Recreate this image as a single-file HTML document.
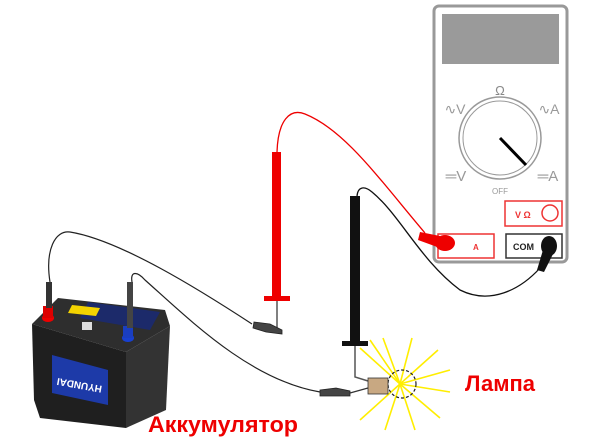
<!DOCTYPE html>
<html><head><meta charset="utf-8"><style>
html,body{margin:0;padding:0;background:#fff;width:600px;height:443px;overflow:hidden}
svg{display:block}
text{font-family:"Liberation Sans",sans-serif}
</style></head><body>
<svg width="600" height="443" viewBox="0 0 600 443" xmlns="http://www.w3.org/2000/svg">
<!-- Multimeter -->
<rect x="434" y="6" width="133" height="256" rx="5" fill="#fff" stroke="#999" stroke-width="3"/>
<rect x="442" y="14" width="117" height="50" fill="#9a9a9a"/>
<circle cx="500" cy="138" r="41" fill="#fff" stroke="#999" stroke-width="1.5"/>
<circle cx="500" cy="138" r="37" fill="#fff" stroke="#999" stroke-width="1"/>
<line x1="500" y1="138" x2="526" y2="165" stroke="#000" stroke-width="3"/>
<text x="500" y="95" font-size="13" fill="#888" text-anchor="middle">Ω</text>
<text x="455" y="114" font-size="14" fill="#999" text-anchor="middle">∿V</text>
<text x="549" y="114" font-size="14" fill="#999" text-anchor="middle">∿A</text>
<text x="456" y="181" font-size="15" fill="#999" text-anchor="middle">═V</text>
<text x="548" y="181" font-size="15" fill="#999" text-anchor="middle">═A</text>
<text x="500" y="194" font-size="8" fill="#999" text-anchor="middle">OFF</text>
<rect x="505" y="201" width="57" height="25" fill="#fff" stroke="#e33" stroke-width="1.5"/>
<text x="515" y="218" font-size="9" font-weight="bold" fill="#e33">V Ω</text>
<circle cx="550" cy="213" r="8" fill="none" stroke="#e33" stroke-width="1.5"/>
<rect x="438" y="234" width="56" height="24" fill="#fff" stroke="#e33" stroke-width="1.5"/>
<text x="473" y="250" font-size="8" font-weight="bold" fill="#e33">A</text>
<rect x="506" y="234" width="56" height="24" fill="#fff" stroke="#333" stroke-width="1.5"/>
<text x="513" y="250" font-size="9" font-weight="bold" fill="#222">COM</text>
<!-- red lead -->
<path d="M277,152 C278,120 290,108 305,114 C345,130 380,180 425,233" fill="none" stroke="#e00" stroke-width="1.3"/>
<ellipse cx="445" cy="243" rx="10" ry="8" fill="#e00"/>
<path d="M420,232 L440,236 L440,248 L418,240 Z" fill="#e00"/>
<!-- black lead -->
<path d="M357,196 C358,186 365,186 372,192 C400,215 420,260 460,290 C490,305 520,290 540,268" fill="none" stroke="#111" stroke-width="1.3"/>
<ellipse cx="549" cy="246" rx="8" ry="10" fill="#111"/>
<path d="M543,250 L554,252 L544,272 L537,270 Z" fill="#111"/>
<!-- red probe -->
<rect x="272" y="152" width="9" height="145" fill="#e00"/>
<path d="M272,290 L272,296 L264,296 L264,301 L290,301 L290,296 L281,296 L281,290 Z" fill="#e00"/>
<line x1="277" y1="301" x2="277" y2="328" stroke="#555" stroke-width="1.5"/>
<path d="M254,322 L270,324 L282,330 L282,334 L266,332 L253,328 Z" fill="#444" stroke="#222" stroke-width="0.8"/>
<!-- black probe -->
<rect x="350" y="196" width="10" height="140" fill="#111"/>
<path d="M350,334 L350,341 L342,341 L342,346 L368,346 L368,341 L360,341 L360,334 Z" fill="#111"/>
<path d="M355,346 L355,377 L368,381" fill="none" stroke="#555" stroke-width="1.5"/>
<!-- bulb rays -->
<g stroke="#ffee00" stroke-width="1.6">
<line x1="400" y1="384" x2="360" y2="348"/><line x1="400" y1="384" x2="383" y2="338"/>
<line x1="400" y1="384" x2="412" y2="338"/><line x1="400" y1="384" x2="438" y2="350"/>
<line x1="400" y1="384" x2="450" y2="370"/><line x1="400" y1="384" x2="450" y2="392"/>
<line x1="400" y1="384" x2="440" y2="418"/><line x1="400" y1="384" x2="415" y2="430"/>
<line x1="400" y1="384" x2="385" y2="430"/><line x1="400" y1="384" x2="360" y2="420"/>
<line x1="400" y1="384" x2="370" y2="340"/>
</g>
<circle cx="402" cy="384" r="14" fill="none" stroke="#222" stroke-width="1.2" stroke-dasharray="3,2"/>
<rect x="368" y="378" width="20" height="16" fill="#c8a882" stroke="#333" stroke-width="0.8"/>
<!-- wires from battery -->
<path d="M50,282 C45,250 55,230 70,232 C120,240 200,290 252,324" fill="none" stroke="#222" stroke-width="1.2"/>
<path d="M132,282 C130,270 138,272 145,280 C190,320 250,380 320,392" fill="none" stroke="#222" stroke-width="1.2"/>
<path d="M320,390 L336,388 L350,391 L350,396 L336,396 L320,396 Z" fill="#444" stroke="#222" stroke-width="0.8"/>
<line x1="350" y1="393" x2="368" y2="388" stroke="#333" stroke-width="1.2"/>
<!-- battery -->
<polygon points="32,324 58,298 165,310 170,326 126,352" fill="#2e2e2e"/>
<polygon points="32,324 126,352 126,428 40,418 34,400" fill="#1f1f1f"/>
<polygon points="126,352 170,326 166,410 126,428" fill="#333"/>
<polygon points="88,302 160,312 150,330 80,318" fill="#1c2a6a"/>
<polygon points="72,305 100,308 96,316 68,313" fill="#f3d300"/>
<rect x="82" y="322" width="10" height="8" fill="#ddd"/>
<polygon points="52,355 108,370 108,405 52,393" fill="#1d3aa8"/>
<text transform="translate(80,382) rotate(190)" font-size="10" font-weight="bold" fill="#fff" text-anchor="middle">HYUNDAI</text>
<ellipse cx="48" cy="318" rx="6" ry="4" fill="#e00"/>
<rect x="43" y="306" width="10" height="12" fill="#d00"/>
<rect x="46" y="282" width="6" height="26" fill="#333"/>
<ellipse cx="128" cy="338" rx="6" ry="4" fill="#1840d0"/>
<rect x="123" y="326" width="10" height="12" fill="#1a3ec0"/>
<rect x="127" y="282" width="6" height="46" fill="#444"/>
<!-- labels -->
<text x="148" y="432" font-size="22" font-weight="bold" fill="#e00" textLength="150" lengthAdjust="spacingAndGlyphs">Аккумулятор</text>
<text x="465" y="391" font-size="22" font-weight="bold" fill="#e00" textLength="70" lengthAdjust="spacingAndGlyphs">Лампа</text>
</svg>
</body></html>
